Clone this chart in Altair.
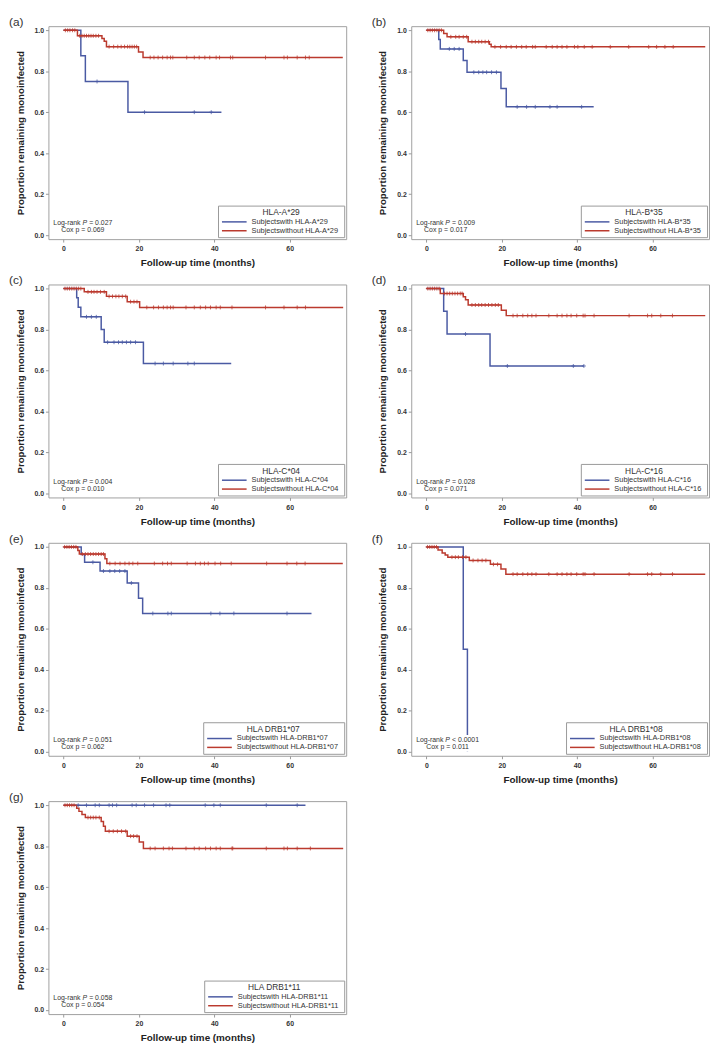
import altair as alt
import pandas as pd

BLUE = "#4a5aa3"
RED = "#bb3a2e"
FONT = "Liberation Sans"

X_TICKS = [0, 20, 40, 60]
Y_TICKS = [0.0, 0.2, 0.4, 0.6, 0.8, 1.0]
X_TITLE = "Follow-up time (months)"
Y_TITLE = "Proportion remaining monoinfected"

# ---------------- (a) HLA-A*29 ----------------
A_WITH_T = [4.6, 5.8, 17.1]
A_WITH_S = [0.875, 0.75, 0.60]
A_WITH_END = 41.9
A_WITH_CENS = [8.9, 21.5, 34.7, 39.2]
A_WO_T = [3.7, 10.2, 10.8, 11.4, 19.9, 21.1]
A_WO_S = [0.973, 0.960, 0.946, 0.920, 0.894, 0.867]
A_WO_END = 74.1
A_WO_CENS = [0.5, 1.1, 1.7, 2.4, 3.0, 4.3, 4.9, 5.5, 6.1, 6.7, 7.3, 7.9, 8.6, 9.3,
             12.1, 13.3, 14.4, 15.3, 16.2, 17.0, 17.6, 18.2, 18.8, 19.4,
             23.0, 24.0, 25.1, 26.3, 27.5, 28.4, 29.0, 32.7, 34.7, 36.0, 37.5, 38.8,
             40.5, 41.4, 44.3, 44.9, 53.6, 58.5, 59.4, 62.0, 64.2, 65.2]

# ---------------- (b) HLA-B*35 ----------------
B_WITH_T = [3.3, 3.7, 9.8, 10.8, 19.8, 21.2]
B_WITH_S = [0.955, 0.909, 0.852, 0.795, 0.716, 0.626]
B_WITH_END = 44.4
B_WITH_CENS = [6.1, 7.4, 8.7, 12.6, 13.9, 15.0, 16.0, 17.3, 18.6,
               24.1, 26.6, 28.9, 32.8, 34.7, 41.2]
B_WO_T = [4.6, 5.5, 11.1, 16.7, 17.2]
B_WO_S = [0.984, 0.968, 0.944, 0.932, 0.919]
B_WO_END = 74.0
B_WO_CENS = [0.4, 1.0, 1.6, 2.2, 2.8, 3.4, 4.0, 6.5, 7.8, 8.7, 9.8, 10.7,
             12.1, 13.0, 13.9, 14.7, 15.6, 16.5, 18.2, 19.7, 21.2, 22.5, 23.9,
             25.3, 26.5, 28.2, 28.9, 31.8, 33.4, 34.7, 36.0, 37.3, 39.3, 40.2,
             41.9, 44.0, 48.8, 53.7, 59.0, 61.1, 63.3, 65.5]

# ---------------- (c) HLA-C*04 ----------------
C_WITH_T = [3.5, 3.9, 4.6, 10.0, 10.8, 21.2]
C_WITH_S = [0.955, 0.909, 0.862, 0.800, 0.738, 0.634]
C_WITH_END = 44.5
C_WITH_CENS = [6.1, 7.4, 8.7, 11.7, 13.4, 14.6, 15.6, 16.7, 17.8, 19.1,
               24.3, 26.5, 29.1, 33.0, 34.7]
C_WO_T = [5.5, 11.4, 16.9, 20.2]
C_WO_S = [0.984, 0.962, 0.936, 0.908]
C_WO_END = 74.2
C_WO_CENS = [0.4, 1.0, 1.6, 2.2, 2.8, 3.4, 4.0, 4.6, 6.5, 7.4, 8.1, 8.9, 9.8, 10.8,
             12.1, 13.0, 13.9, 14.7, 15.6, 16.5, 17.8, 18.7, 19.5,
             22.1, 23.9, 25.2, 26.5, 27.5, 28.4, 29.1, 32.5, 34.7, 36.3, 37.7,
             39.0, 40.5, 41.6, 44.7, 53.6, 58.5, 62.0, 64.2]

# ---------------- (d) HLA-C*16 ----------------
D_WITH_T = [4.6, 5.5, 16.9]
D_WITH_S = [0.889, 0.778, 0.622]
D_WITH_END = 41.8
D_WITH_CENS = [10.4, 21.5, 39.0, 41.8]
D_WO_T = [3.7, 9.8, 10.4, 11.1, 19.9, 21.2]
D_WO_S = [0.976, 0.960, 0.945, 0.920, 0.894, 0.868]
D_WO_END = 74.0
D_WO_CENS = [0.4, 1.0, 1.6, 2.2, 2.8, 3.4, 4.8, 5.5, 6.2, 6.9, 7.6, 8.3, 9.0, 9.5,
             12.1, 13.0, 13.9, 14.7, 15.6, 16.5, 17.4, 18.3, 19.1,
             23.0, 24.1, 25.6, 26.9, 28.0, 29.1, 32.5, 34.7, 36.0, 37.3, 38.4,
             39.9, 41.6, 42.1, 44.5, 53.8, 58.7, 59.8, 62.2, 65.3]

# ---------------- (e) HLA DRB1*07 ----------------
E_WITH_T = [4.7, 5.6, 9.7, 16.9, 19.9, 21.0]
E_WITH_S = [0.963, 0.925, 0.882, 0.824, 0.749, 0.675]
E_WITH_END = 65.8
E_WITH_CENS = [7.8, 10.6, 12.3, 13.6, 14.9, 16.3, 18.0, 23.7, 27.7, 28.6,
               39.1, 41.5, 45.2, 59.3]
E_WO_T = [3.8, 4.2, 11.0, 11.5]
E_WO_S = [0.982, 0.965, 0.942, 0.919]
E_WO_END = 74.1
E_WO_CENS = [0.3, 0.9, 1.5, 2.1, 2.7, 3.3, 5.0, 5.8, 6.5, 7.2, 7.9, 8.6, 9.3, 10.0,
             10.6, 12.3, 13.7, 15.0, 16.3, 17.4, 18.4, 19.7, 24.1, 26.3, 27.6,
             28.6, 32.8, 35.0, 36.3, 37.4, 38.4, 40.2, 41.7, 44.5, 53.9, 59.3,
             61.9, 64.1]

# ---------------- (f) HLA DRB1*08 ----------------
F_WITH_T = [9.8, 10.9]
F_WITH_S = [0.5, 0.0]
F_WITH_END = 10.9
F_WITH_CENS = []
F_WO_T = [3.1, 4.2, 5.0, 5.7, 11.4, 17.0, 19.8, 21.1]
F_WO_S = [0.985, 0.970, 0.960, 0.950, 0.934, 0.915, 0.892, 0.867]
F_WO_END = 74.0
F_WO_CENS = [0.3, 0.9, 1.5, 2.1, 2.7, 6.8, 7.7, 8.5, 9.6, 10.5, 12.4, 13.7, 14.8,
             15.8, 17.8, 18.9, 23.0, 24.1, 25.6, 26.9, 28.0, 29.1, 32.5, 34.7,
             36.0, 37.3, 38.4, 39.9, 41.6, 42.1, 44.5, 53.8, 58.7, 59.8, 62.2, 65.3]

# ---------------- (g) HLA DRB1*11 ----------------
G_WITH_T = []
G_WITH_S = []
G_WITH_END = 64.2
G_WITH_CENS = [3.9, 6.1, 8.4, 9.5, 12.1, 13.0, 14.1, 18.2, 19.3, 21.5, 23.9,
               27.2, 28.2, 37.6, 39.9, 41.6, 53.8, 62.0]
G_WO_T = [3.5, 4.1, 4.9, 5.8, 10.0, 10.6, 11.1, 16.9, 20.1, 21.2]
G_WO_S = [0.985, 0.970, 0.955, 0.940, 0.920, 0.897, 0.873, 0.849, 0.820, 0.789]
G_WO_END = 74.2
G_WO_CENS = [0.4, 1.0, 1.6, 2.2, 2.8, 6.5, 7.2, 7.9, 8.6, 9.5, 12.1, 13.2, 14.3,
             15.4, 16.5, 17.8, 18.6, 19.5, 23.0, 24.3, 26.5, 28.0, 28.9, 32.5,
             34.7, 36.0, 37.7, 39.0, 40.5, 41.6, 44.7, 44.9, 53.8, 58.5, 59.4,
             62.0, 65.5]

PANEL_LABELS = ["(a)", "(b)", "(c)", "(d)", "(e)", "(f)", "(g)"]
LEGEND_TITLES = ["HLA-A*29", "HLA-B*35", "HLA-C*04", "HLA-C*16",
                 "HLA DRB1*07", "HLA DRB1*08", "HLA DRB1*11"]
ALLELES = ["HLA-A*29", "HLA-B*35", "HLA-C*04", "HLA-C*16",
           "HLA-DRB1*07", "HLA-DRB1*08", "HLA-DRB1*11"]
LOGRANK = ["= 0.027", "= 0.009", "= 0.004", "= 0.028", "= 0.051", "< 0.0001", "= 0.058"]
COX = ["0.069", "0.017", "0.010", "0.071", "0.062", "0.011", "0.054"]

CURVES = [
    (A_WITH_T, A_WITH_S, A_WITH_END, A_WITH_CENS, A_WO_T, A_WO_S, A_WO_END, A_WO_CENS),
    (B_WITH_T, B_WITH_S, B_WITH_END, B_WITH_CENS, B_WO_T, B_WO_S, B_WO_END, B_WO_CENS),
    (C_WITH_T, C_WITH_S, C_WITH_END, C_WITH_CENS, C_WO_T, C_WO_S, C_WO_END, C_WO_CENS),
    (D_WITH_T, D_WITH_S, D_WITH_END, D_WITH_CENS, D_WO_T, D_WO_S, D_WO_END, D_WO_CENS),
    (E_WITH_T, E_WITH_S, E_WITH_END, E_WITH_CENS, E_WO_T, E_WO_S, E_WO_END, E_WO_CENS),
    (F_WITH_T, F_WITH_S, F_WITH_END, F_WITH_CENS, F_WO_T, F_WO_S, F_WO_END, F_WO_CENS),
    (G_WITH_T, G_WITH_S, G_WITH_END, G_WITH_CENS, G_WO_T, G_WO_S, G_WO_END, G_WO_CENS),
]

W = 302
H = 216
PLUS = "M0,-1V1M-1,0H1"
# legend line symbol: 25 px long when drawn at size 64 (scale 4)
LEG_SYMBOL = "M-1,0H5.25"


def surv_at(times, surv, c):
    s = 1.0
    for t, v in zip(times, surv):
        if t <= c:
            s = v
    return s


def text_layer(txt, x, y, **kw):
    return alt.Chart(pd.DataFrame({"k": [0]})).mark_text(
        text=txt, font=FONT, color="#333", baseline="middle", **kw
    ).encode(x=alt.value(x), y=alt.value(y))


def make_panel(idx):
    wt, ws, wend, wc, ot, os_, oend, oc = CURVES[idx]
    g_with = "Subjectswith  " + ALLELES[idx]
    g_wo = "Subjectswithout  " + ALLELES[idx]

    rows = []
    for name, T, S, end in [(g_with, wt, ws, wend), (g_wo, ot, os_, oend)]:
        pts = [(0.0, 1.0)] + list(zip(T, S)) + [(end, S[-1] if S else 1.0)]
        for i, (t, s) in enumerate(pts):
            rows.append({"t": t, "s": s, "group": name, "i": i})
    line_df = pd.DataFrame(rows)

    x_enc = alt.X("t:Q", title=X_TITLE,
                  scale=alt.Scale(domain=[-4, 75], nice=False, zero=False),
                  axis=alt.Axis(values=X_TICKS, format="d", labelPadding=3,
                                titlePadding=6))
    y_enc = alt.Y("s:Q", title=Y_TITLE,
                  scale=alt.Scale(domain=[-0.02, 1.02], nice=False, zero=False),
                  axis=alt.Axis(values=Y_TICKS, format=".1f", labelPadding=2,
                                titlePadding=9, titleFontSize=9.8))

    color = alt.Color(
        "group:N",
        scale=alt.Scale(domain=[g_with, g_wo], range=[BLUE, RED]),
        legend=alt.Legend(
            title=LEGEND_TITLES[idx], orient="bottom-right", offset=2,
            strokeColor="#999", fillColor="white", padding=3,
            titleAnchor="middle", titleFontWeight="normal", titleFontSize=8.5,
            titleFont=FONT, titleColor="#333", titlePadding=0,
            labelFont=FONT, labelFontSize=7.5, labelColor="#333", labelOffset=21,
            symbolType=LEG_SYMBOL, symbolSize=64, symbolStrokeWidth=1.5,
            rowPadding=0,
        ),
    )

    lines = alt.Chart(line_df).mark_line(
        interpolate="step-after", strokeWidth=1.5
    ).encode(x=x_enc, y=y_enc, color=color, order=alt.Order("i:Q"))

    layers = [lines]
    for T, S, cens, col in [(wt, ws, wc, BLUE), (ot, os_, oc, RED)]:
        if not cens:
            continue
        cdf = pd.DataFrame({"t": cens, "s": [surv_at(T, S, c) for c in cens]})
        layers.append(
            alt.Chart(cdf).mark_point(shape=PLUS, size=16, filled=False,
                                      strokeWidth=0.8, color=col, opacity=1)
            .encode(x="t:Q", y="s:Q")
        )

    # white box behind the statistics text
    layers.append(
        alt.Chart(pd.DataFrame({"k": [0]})).mark_rect(color="white")
        .encode(x=alt.value(3), x2=alt.value(68), y=alt.value(H - 21), y2=alt.value(H - 4))
    )

    fs = 7
    x0 = 5
    w1 = 29.6
    wp = 4.7
    w3 = 25.5 if LOGRANK[idx].startswith("=") else 29.4
    layers.append(text_layer("Log-rank", x0, H - 16, align="left", fontSize=fs))
    layers.append(text_layer("P", x0 + w1, H - 16, align="left", fontSize=fs,
                             fontStyle="italic"))
    layers.append(text_layer(LOGRANK[idx], x0 + w1 + wp + 2, H - 16, align="left",
                             fontSize=fs))
    layers.append(text_layer("Cox p = " + COX[idx], x0 + (w1 + wp + w3) / 2, H - 9,
                             align="center", fontSize=fs))
    layers.append(text_layer(PANEL_LABELS[idx], -40, -4, align="left", fontSize=12))

    return alt.layer(*layers).properties(width=W, height=H)


panels = [make_panel(i) for i in range(7)]

chart = alt.concat(*panels, columns=2, spacing={"row": 5, "column": 24}).resolve_scale(
    color="independent"
).properties(
    padding={"left": 0, "top": 0, "right": 0, "bottom": 0}
).configure_view(
    stroke="#a0a0a0", strokeWidth=1
).configure_axis(
    grid=False, domain=False, tickColor="#999", tickSize=3,
    labelFont=FONT, labelFontSize=7, labelFontWeight="bold", labelColor="#333",
    titleFont=FONT, titleFontSize=10, titleFontWeight="bold", titleColor="#222",
)

chart.save("out.html", embed_options={"renderer": "svg", "actions": False})
